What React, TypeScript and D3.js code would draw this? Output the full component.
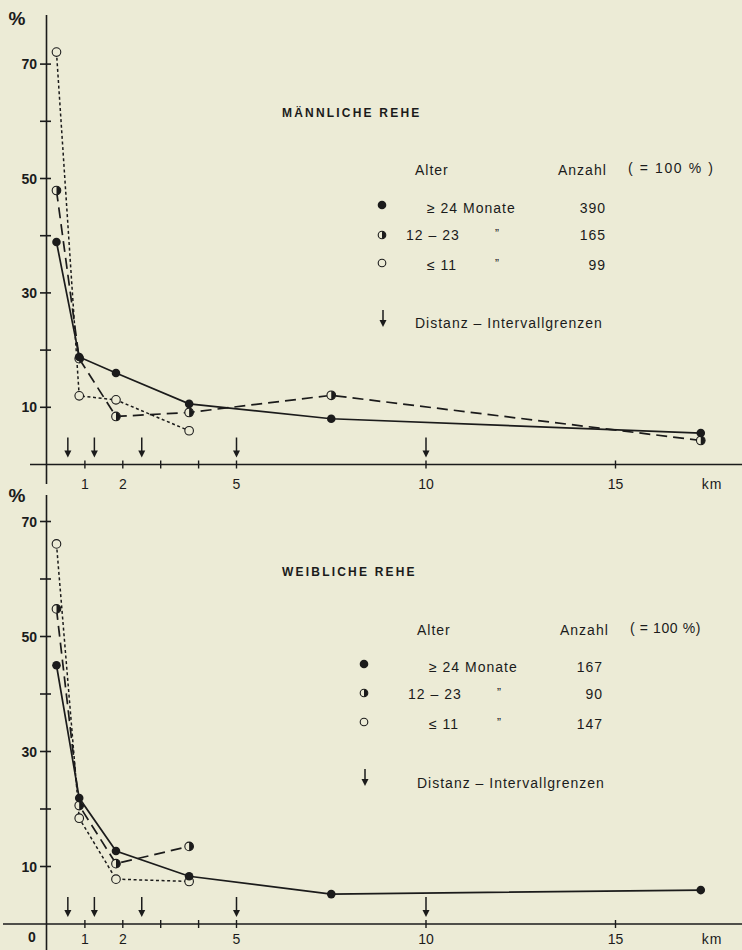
import React from "react";
import * as d3 from "d3";

// ---- data ----
const distanceKm = [0.25, 0.85, 1.82, 3.75, 7.5, 17.25];
const intervalLimitsKm = [0.55, 1.25, 2.5, 5, 10];
const xTickKm = [1, 2, 3, 4, 5, 10, 15];
const xLabelKm = [1, 2, 5, 10, 15];
const yTicks = [10, 20, 30, 40, 50, 60, 70];
const yLabels = [10, 30, 50, 70];

const maleAdult = [38.9, 18.8, 16.0, 10.6, 8.0, 5.5];
const maleYearling = [47.9, 18.5, 8.4, 9.1, 12.1, 4.2];
const maleFawn = [72.1, 12.0, 11.3, 5.9];

const femaleAdult = [45.0, 21.9, 12.7, 8.3, 5.2, 5.9];
const femaleYearling = [54.8, 20.6, 10.5, 13.5];
const femaleFawn = [66.1, 18.4, 7.8, 7.4];

const ageLabels = ["\u2265  24  Monate", "12  \u2013  23", "\u2264  11"];
const maleCounts = ["390", "165", "99"];
const femaleCounts = ["167", "90", "147"];

const BG = "#ecebd6";
const INK = "#1b1b1b";
const FONT = "'Liberation Sans', Arial, sans-serif";

type Kind = "full" | "half" | "open";

function Marker({ cx, cy, kind, r = 4.3 }: { cx: number; cy: number; kind: Kind; r?: number }) {
  if (kind === "full") return <circle cx={cx} cy={cy} r={r} fill={INK} />;
  if (kind === "open")
    return <circle cx={cx} cy={cy} r={r} fill={BG} stroke={INK} strokeWidth={1.1} />;
  return (
    <g>
      <circle cx={cx} cy={cy} r={r} fill={BG} stroke={INK} strokeWidth={1.1} />
      <path d={`M${cx},${cy - r} A${r},${r} 0 0 1 ${cx},${cy + r} Z`} fill={INK} />
    </g>
  );
}

function Arrow({ x, y1, y2 }: { x: number; y1: number; y2: number }) {
  return (
    <g>
      <line x1={x} x2={x} y1={y1} y2={y2 - 6} stroke={INK} strokeWidth={1.5} />
      <path d={`M${x - 3.5},${y2 - 7} L${x + 3.5},${y2 - 7} L${x},${y2} Z`} fill={INK} />
    </g>
  );
}

const xScale = d3.scaleLinear().domain([0, 18]).range([47, 47 + 18 * 37.9]);

type PanelProps = {
  y0: number;
  unit: number;
  axisTop: number;
  axisBottom: number;
  axisLeft: number;
  pctY: number;
  labelDy: number;
  showZero: boolean;
  title: string;
  titleY: number;
  adult: number[];
  yearling: number[];
  fawn: number[];
  counts: string[];
  legend: {
    headY: number;
    alterX: number;
    anzahlX: number;
    pctX: number;
    pctText: string;
    pctSpacing: number;
    markX: number;
    rowY: number[];
    textDy: number[];
    countX: number;
    arrowY: number;
    distY: number;
  };
};

function Panel(p: PanelProps) {
  const y = d3.scaleLinear().domain([0, 70]).range([p.y0, p.y0 - 70 * p.unit]);
  const line = d3
    .line<number>()
    .x((_, i) => xScale(distanceKm[i]))
    .y((d) => y(d));
  const series: { data: number[]; kind: Kind; dash: string; w: number }[] = [
    { data: p.adult, kind: "full", dash: "none", w: 1.7 },
    { data: p.yearling, kind: "half", dash: "11,6", w: 1.7 },
    { data: p.fawn, kind: "open", dash: "3,2.6", w: 1.5 },
  ];
  const L = p.legend;
  return (
    <g fontFamily={FONT} fill={INK}>
      {/* axes */}
      <line x1={p.axisLeft} x2={742} y1={p.y0} y2={p.y0} stroke={INK} strokeWidth={1.6} />
      <line x1={46.5} x2={46.5} y1={p.axisTop} y2={p.axisBottom} stroke={INK} strokeWidth={1.6} />
      {yTicks.map((t) => (
        <line key={t} x1={40} x2={51} y1={y(t)} y2={y(t)} stroke={INK} strokeWidth={1.6} />
      ))}
      {yLabels.map((t) => (
        <text key={t} x={37} y={y(t) + 5} fontSize={14} textAnchor="end" fontWeight="bold">
          {t}
        </text>
      ))}
      <text x={17} y={p.pctY} fontSize={19} textAnchor="middle" fontWeight="bold">
        %
      </text>
      {p.showZero && (
        <text x={32} y={p.y0 + 18} fontSize={14} textAnchor="middle" fontWeight="bold">
          0
        </text>
      )}
      {xTickKm.map((t) => (
        <line key={t} x1={xScale(t)} x2={xScale(t)} y1={p.y0 - 4} y2={p.y0 + 4} stroke={INK} strokeWidth={1.4} />
      ))}
      {xLabelKm.map((t) => (
        <text key={t} x={xScale(t)} y={p.y0 + p.labelDy} fontSize={14} textAnchor="middle">
          {t}
        </text>
      ))}
      <text x={712} y={p.y0 + p.labelDy} fontSize={14} textAnchor="middle" letterSpacing={1}>
        km
      </text>
      {intervalLimitsKm.map((k) => (
        <Arrow key={k} x={xScale(k)} y1={p.y0 - 27} y2={p.y0 - 7} />
      ))}
      {/* series */}
      {series.map((s, i) => (
        <path
          key={i}
          d={line(s.data) || ""}
          fill="none"
          stroke={INK}
          strokeWidth={s.w}
          strokeDasharray={s.dash}
        />
      ))}
      {series
        .slice()
        .reverse()
        .map((s, i) =>
          s.data.map((v, j) => (
            <Marker key={`${i}-${j}`} cx={xScale(distanceKm[j])} cy={y(v)} kind={s.kind} />
          ))
        )}
      {/* title + legend */}
      <text x={282} y={p.titleY} fontSize={12} letterSpacing={2.2} fontWeight="bold">
        {p.title}
      </text>
      <text x={L.alterX} y={L.headY} fontSize={14} letterSpacing={1}>
        Alter
      </text>
      <text x={L.anzahlX} y={L.headY} fontSize={14} letterSpacing={1}>
        Anzahl
      </text>
      <text x={L.pctX} y={L.headY - 2} fontSize={14} letterSpacing={L.pctSpacing}>
        {L.pctText}
      </text>
      {(["full", "half", "open"] as Kind[]).map((k, i) => (
        <g key={k}>
          <Marker cx={L.markX} cy={L.rowY[i]} kind={k} r={k === "full" ? 4.3 : 3.8} />
          <text
            x={i === 1 ? L.alterX - 9 : L.alterX + 12}
            y={L.rowY[i] + L.textDy[i]}
            fontSize={14}
            letterSpacing={1}
          >
            {ageLabels[i]}
          </text>
          {i > 0 && (
            <text x={L.alterX + 80} y={L.rowY[i] + L.textDy[i] - 2} fontSize={12}>
              {"\u201D"}
            </text>
          )}
          <text x={L.countX} y={L.rowY[i] + L.textDy[i]} fontSize={14} textAnchor="end" letterSpacing={1}>
            {p.counts[i]}
          </text>
        </g>
      ))}
      <Arrow x={L.markX + 1} y1={L.arrowY} y2={L.arrowY + 17} />
      <text x={L.alterX} y={L.distY} fontSize={14} letterSpacing={1}>
        Distanz – Intervallgrenzen
      </text>
    </g>
  );
}

export default function App() {
  return (
    <svg
      width={742}
      height={950}
      style={{ position: "absolute", left: 0, top: 0, display: "block" }}
    >
      <rect width={742} height={950} fill={BG} />
      <Panel
        y0={464.5}
        unit={5.72}
        axisTop={15}
        axisBottom={484}
        axisLeft={30}
        pctY={25}
        labelDy={24}
        showZero={false}
        title="MÄNNLICHE  REHE"
        titleY={117}
        adult={maleAdult}
        yearling={maleYearling}
        fawn={maleFawn}
        counts={maleCounts}
        legend={{
          headY: 175,
          alterX: 415,
          anzahlX: 558,
          pctX: 628,
          pctText: "( = 100  % )",
          pctSpacing: 1.6,
          markX: 382,
          rowY: [205, 235, 263],
          textDy: [8, 5, 7],
          countX: 606,
          arrowY: 310,
          distY: 328,
        }}
      />
      <Panel
        y0={924}
        unit={5.75}
        axisTop={495}
        axisBottom={950}
        axisLeft={3}
        pctY={502}
        labelDy={20}
        showZero={true}
        title="WEIBLICHE  REHE"
        titleY={576}
        adult={femaleAdult}
        yearling={femaleYearling}
        fawn={femaleFawn}
        counts={femaleCounts}
        legend={{
          headY: 635,
          alterX: 417,
          anzahlX: 560,
          pctX: 630,
          pctText: "( = 100 %)",
          pctSpacing: 0.6,
          markX: 364,
          rowY: [664, 693, 722],
          textDy: [8, 6, 7],
          countX: 603,
          arrowY: 769,
          distY: 788,
        }}
      />
    </svg>
  );
}
